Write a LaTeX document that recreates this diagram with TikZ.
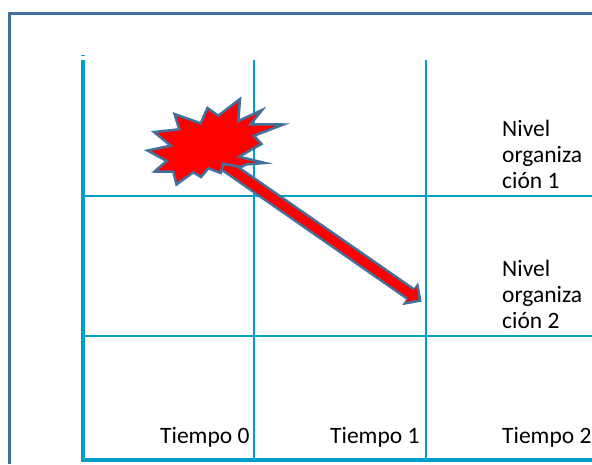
\documentclass[tikz,border=0pt]{standalone}
\usepackage{fontspec}
\setmainfont{Carlito}
\usetikzlibrary{arrows.meta}
\usetikzlibrary{positioning}
\definecolor{gridblue}{HTML}{009FC7}
\definecolor{edgeblue}{HTML}{41719C}

\begin{document}
\begin{tikzpicture}[x=1pt,y=-1pt,
		thin line/.style={draw=gridblue,line width=2pt},
		thick line/.style={draw=gridblue,line width=4pt},
		frame line/.style={draw=edgeblue,line width=3pt},
		label/.style={inner sep=0pt,font=\fontsize{23.5}{26}\selectfont},
		level/.style={label,align=left,anchor=west}]
		\useasboundingbox (0,0) rectangle (592,464);
		
		% outer frame
		\coordinate (frame sw) at (9.5,464);
		\coordinate (frame nw) at (9.5,13.5);
		\coordinate (frame ne) at (592,13.5);
		\draw[frame line] (frame sw) -- (frame nw) -- (frame ne);
		
		% grid
		\coordinate (top0) at (83,60);
		\coordinate (top1) at (254,60);
		\coordinate (top2) at (426,60);
		\coordinate (bot0) at (83,460);
		\coordinate (bot1) at (254,460);
		\coordinate (bot2) at (426,460);
		\coordinate (bot3) at (592,460);
		\coordinate (row1) at (83,196);
		\coordinate (row1 end) at (592,196);
		\coordinate (row2) at (83,336);
		\coordinate (row2 end) at (592,336);
		\coordinate (tick) at (81,55);
		\coordinate (tick end) at (85,55);
		
		\path[thin line]
		(top1) edge (bot1)
		(top2) edge (bot2)
		(row1) edge (row1 end)
		(row2) edge (row2 end);
		\draw[thick line] (top0) -- (bot0) -- (bot3);
		\draw[draw=gridblue,line width=1pt] (tick) -- (tick end);
		
		% arrow under the burst
		\coordinate (blast) at (225,165);
		\coordinate (target) at (421.7,301.7);
		\draw[draw=edgeblue,line width=14pt,-{Triangle[length=14pt,width=27pt]}] (blast) -- (target);
		\draw[draw=red,line width=9pt,shorten >=4pt,-{Triangle[length=9pt,width=18pt]}] (blast) -- (target);
		
		% burst
		\draw[draw=edgeblue,line width=2.5pt,fill=red,line join=miter,miter limit=10]
		(240,99) -- (238.3,121) -- (262,110) -- (250.7,124.3) -- (283.5,124.5)
		-- (254,135.7) -- (261.5,144) -- (250.7,150) -- (239.3,156.7) -- (265,163)
		-- (246,164.5) -- (241,167) -- (223.3,163.7) -- (220.8,173) -- (208.3,168.3)
		-- (201,177) -- (193.3,172.3) -- (176.5,184.5) -- (173.3,171.7) -- (154.5,171.5)
		-- (166.7,161) -- (147.5,150.5) -- (170.7,145.7) -- (154,132) -- (179.3,129.3)
		-- (174.5,114) -- (200.7,123.3) -- (207.5,108) -- (218.3,115.7) -- cycle;
		
		% labels
		\node[level] (level1) at (502,154) {Nivel\\organiza\\ción 1};
		\node[level] (level2) at (502,294) {Nivel\\organiza\\ción 2};
		\node[label,anchor=base west] (time0) at (160,443) {Tiempo 0};
		\node[label,anchor=base west] (time1) at (330,443) {Tiempo 1};
		\node[label,anchor=base west] (time2) at (502,443) {Tiempo 2};
		\end{tikzpicture}
\end{document}
